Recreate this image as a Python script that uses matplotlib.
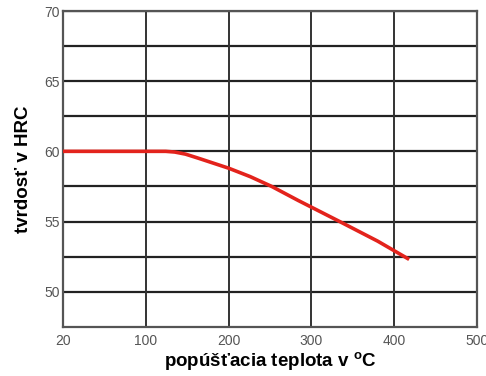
import matplotlib
matplotlib.use("Agg")
import matplotlib.pyplot as plt

# tick labels on the temperature axis (equally spaced on the original chart)
x_tick_pos = [0, 100, 200, 300, 400, 500]
x_tick_labels = ["20", "100", "200", "300", "400", "500"]
y_ticks = [50, 55, 60, 65, 70]
y_grid = [50, 52.5, 55, 57.5, 60, 62.5, 65, 67.5, 70]

# hardness curve (axis position, HRC)
curve_x = [0, 50, 100, 124, 135, 148, 164, 182, 200, 226, 252, 284, 334, 380, 418]
curve_y = [60, 60, 60, 60, 59.95, 59.8, 59.5, 59.15, 58.8, 58.2, 57.5, 56.5, 55.0, 53.6, 52.3]

plt.rcParams['font.family'] = ['Liberation Sans', 'DejaVu Sans']

fig = plt.figure(figsize=(4.86, 3.76), dpi=100)
ax = fig.add_axes([0.1296, 0.131, 0.852, 0.8397])

# grid
for y in y_grid:
    ax.axhline(y, color='#222222', lw=1.6, zorder=1)
for x in x_tick_pos[1:-1]:
    ax.axvline(x, color='#333333', lw=1.4, zorder=1)

ax.plot(curve_x, curve_y, color='#e3231c', lw=2.6, zorder=3,
        solid_capstyle='butt', solid_joinstyle='round')

ax.set_xlim(0, 500)
ax.set_ylim(47.5, 70)
ax.set_xticks(x_tick_pos)
ax.set_xticklabels(x_tick_labels)
ax.set_yticks(y_ticks)
ax.tick_params(axis='both', length=0, labelsize=10, labelcolor='#555555', pad=5)
ax.tick_params(axis='y', pad=2)

for s in ax.spines.values():
    s.set_color('#555555')
    s.set_linewidth(1.6)

ax.set_xlabel("popúšťacia teplota v $^{\\mathregular{o}}$C", fontsize=13.5, fontweight='bold', labelpad=2)
ax.set_ylabel("tvrdosť v HRC", fontsize=13.5, fontweight='bold', labelpad=9)

fig.savefig("out.png", dpi=100)
